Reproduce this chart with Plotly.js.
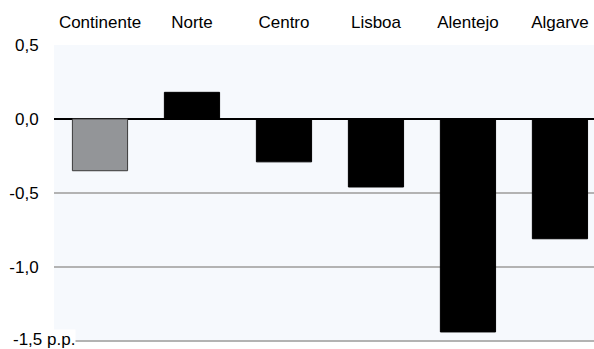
<!DOCTYPE html>
<html><head><meta charset="utf-8">
<script src="https://cdn.plot.ly/plotly-3.0.1.min.js"></script>
<style>html,body{margin:0;padding:0;background:#fff}#c{width:594px;height:349px}</style>
</head><body><div id="c"></div>
<script>
const categories = ["Continente", "Norte", "Centro", "Lisboa", "Alentejo", "Algarve"];
const values = [-0.35, 0.18, -0.29, -0.46, -1.44, -0.81];
const tickVals = [0.5, 0, -0.5, -1.0, -1.5];
const tickText = ["0,5", "0,0", "-0,5", "-1,0", ""];
const unitLabel = "-1,5 p.p.";

const colors = categories.map((c, i) => i === 0 ? "#939598" : "#000000");
const lineColors = categories.map((c, i) => i === 0 ? "#3a3a3a" : "#000000");

const trace = {
  type: "bar",
  x: categories.map((c, i) => i),
  y: values,
  width: 0.6,
  marker: {color: colors, line: {color: lineColors, width: 1}},
  hoverinfo: "none"
};

const layout = {
  width: 594, height: 349,
  margin: {l: 54, r: 0, t: 45, b: 7, pad: 0},
  paper_bgcolor: "#ffffff",
  plot_bgcolor: "#f6f9fd",
  font: {family: "Liberation Sans, Arial, sans-serif", size: 17, color: "#000"},
  showlegend: false,
  xaxis: {
    side: "top",
    range: [-0.5, 5.37],
    tickmode: "array",
    tickvals: categories.map((c, i) => i),
    ticktext: categories,
    showgrid: false, zeroline: false, showline: false,
    ticks: "outside", ticklen: 9, tickcolor: "rgba(0,0,0,0)",
    tickfont: {size: 17, color: "#000"}
  },
  yaxis: {
    range: [-1.508, 0.5],
    tickmode: "array",
    tickvals: tickVals,
    ticktext: tickText,
    showgrid: true, gridcolor: "#b3b3b3", gridwidth: 1.5,
    zeroline: true, zerolinecolor: "#000", zerolinewidth: 1.5,
    showline: false,
    ticks: "outside", ticklen: 11, tickcolor: "rgba(0,0,0,0)",
    tickfont: {size: 17, color: "#000"}
  },
  annotations: [{
    xref: "paper", yref: "y", x: 0, xshift: 22, y: -1.5, yshift: 1,
    xanchor: "right", yanchor: "middle",
    text: unitLabel, showarrow: false,
    bgcolor: "#ffffff", borderpad: 0,
    font: {size: 17, color: "#000"}
  }]
};

Plotly.newPlot("c", [trace], layout, {staticPlot: true, displayModeBar: false});
</script></body></html>
